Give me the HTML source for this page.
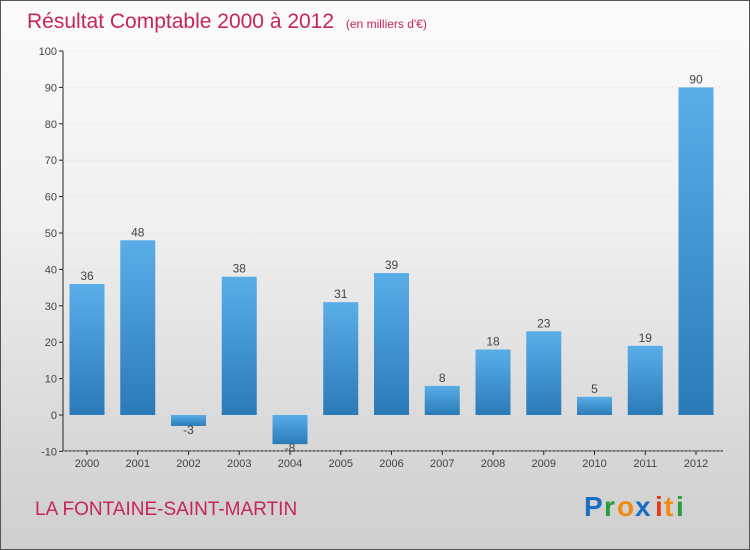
<!DOCTYPE html>
<html><head><meta charset="utf-8"><style>
body{margin:0}
#c{position:relative;width:748px;height:548px;border:1px solid #555;background:linear-gradient(#fbfbfb 0%,#f0f0f0 40%,#d8d8d8 80%,#cfcfcf 100%);font-family:"Liberation Sans",sans-serif;overflow:hidden}
</style></head><body>
<div id="c">
<svg width="748" height="548">
<defs><linearGradient id="g" x1="0" y1="0" x2="0" y2="1"><stop offset="0" stop-color="#5aaee8"/><stop offset="1" stop-color="#2a7ab8"/></linearGradient></defs>
<text x="26" y="27" font-size="21" fill="#c8245c">Résultat Comptable 2000 à 2012 <tspan font-size="12" dx="6">(en milliers d'€)</tspan></text>
<g id="axes"></g><g id="bars"></g>
<text x="34" y="514" font-size="19" fill="#c8245c">LA FONTAINE-SAINT-MARTIN</text>
<g font-size="28" font-weight="bold">
<text x="583" y="515" fill="#1a6fc4">P</text><text x="603" y="515" fill="#2a9a3a">r</text><text x="616" y="515" fill="#f08a10">o</text><text x="634" y="515" fill="#1a6fc4">x</text><text x="654" y="515" fill="#e03a1a">i</text><text x="663" y="515" fill="#f08a10">t</text><text x="675" y="515" fill="#2a9a3a">i</text></g>
</svg></div>
<script>
const years=["2000","2001","2002","2003","2004","2005","2006","2007","2008","2009","2010","2011","2012"];
const values=[36,48,-3,38,-8,31,39,8,18,23,5,19,90];
const ticks=[-10,0,10,20,30,40,50,60,70,80,90,100];
const NS="http://www.w3.org/2000/svg";
const y=v=>414-v*3.64;
const x=i=>86+i*50.75;
const ax=document.getElementById('axes'),bg=document.getElementById('bars');
function mk(t,a,p){const e=document.createElementNS(NS,t);for(const k in a)e.setAttribute(k,a[k]);p.appendChild(e);return e;}
let l=mk('line',{x1:62,y1:50,x2:62,y2:450,stroke:'#222'},ax);


l=mk('line',{x1:62,y1:450,x2:722,y2:450,stroke:'#222'},ax);


ticks.forEach(t=>{
 mk('line',{x1:58,y1:y(t),x2:62,y2:y(t),stroke:'#222'},ax);
 const tx=mk('text',{x:56,y:y(t)+4,'font-size':11,fill:'#444','text-anchor':'end'},ax);tx.textContent=t;
 
 
 mk('line',{x1:62,y1:y(t),x2:722,y2:y(t),stroke:'#ddd','stroke-dasharray':'2,2'},ax).setAttribute('opacity',t==0?0:0.6);
});
years.forEach((yr,i)=>{
 mk('line',{x1:x(i),y1:450,x2:x(i),y2:454,stroke:'#222'},ax);
 const tx=mk('text',{x:x(i),y:466,'font-size':11,fill:'#444','text-anchor':'middle'},ax);tx.textContent=yr;
 
 
 const v=values[i],top=Math.min(y(v),y(0)),h=Math.abs(y(v)-y(0));
 const r=mk('rect',{x:x(i)-17.5,y:top,width:35,height:h,fill:'url(#g)'},bg);
 
 
 const lb=mk('text',{x:x(i),y:v>=0?y(v)-4:y(v)-4+12,'font-size':12,fill:'#444','text-anchor':'middle'},bg);lb.textContent=v;
 
 
});
</script>
</body></html>
